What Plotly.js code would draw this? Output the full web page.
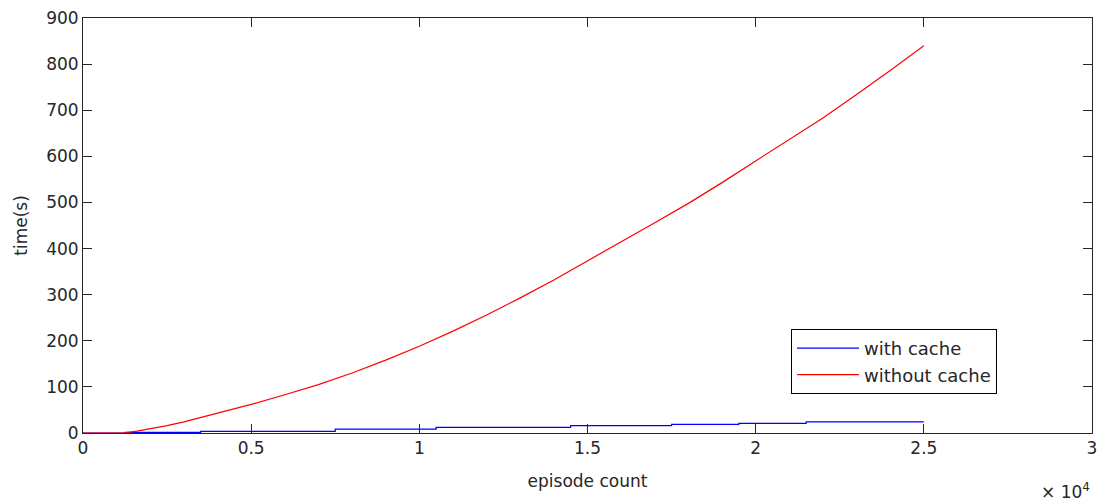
<!DOCTYPE html>
<html>
<head>
<meta charset="utf-8">
<script src="https://cdn.plot.ly/plotly-3.0.1.min.js"></script>
<style>html,body{margin:0;padding:0;background:#fff;}#chart{width:1099px;height:504px;}</style>
</head>
<body>
<div id="chart"></div>
<script>
// Blue: with cache (staircase)
const withCacheX = [0, 1250, 3500, 7500, 10500, 14500, 17500, 19500, 21500, 25000];
const withCacheY = [0, 1.5, 3.5, 8.5, 12, 16, 18.5, 21, 24, 24];
// Red: without cache
const withoutCacheX = [0, 1000, 1250, 1600, 2000, 2500, 3000, 4000, 5000, 6000, 7000, 8000, 9000, 10000, 11000, 12000, 13000, 14000, 15000, 16000, 17000, 18000, 19000, 20000, 21000, 22000, 23000, 24000, 25000];
const withoutCacheY = [0, 0, 0.5, 4, 9, 16, 24, 43, 62, 83, 105, 130, 158, 188, 221, 256, 293, 332, 373, 415, 456, 498, 543, 590, 636, 683, 734, 786, 840];
const xTickVals = [0, 5000, 10000, 15000, 20000, 25000, 30000];
const xTickText = ["0", "0.5", "1", "1.5", "2", "2.5", "3"];
const yTickVals = [0, 100, 200, 300, 400, 500, 600, 700, 800, 900];

const font = {family: "DejaVu Sans, Arial, sans-serif", size: 17, color: "#262626"};
const legendFont = {family: "DejaVu Sans, Arial, sans-serif", size: 18, color: "#262626"};

const traces = [
  {x: withCacheX, y: withCacheY, mode: "lines", name: "with cache", line: {color: "#0000ff", width: 1.2, shape: "hv"}},
  {x: withoutCacheX, y: withoutCacheY, mode: "lines", name: "without cache", line: {color: "#ff0000", width: 1.2, shape: "linear"}}
];

const axisCommon = {
  showline: true, linecolor: "#262626", linewidth: 1, mirror: "allticks",
  ticks: "inside", ticklen: 9, tickcolor: "#262626", tickwidth: 1,
  showgrid: false, zeroline: false, tickfont: font
};

const layout = {
  width: 1099, height: 504,
  margin: {l: 83, r: 7, t: 18, b: 71},
  paper_bgcolor: "#fff", plot_bgcolor: "#fff",
  font: font,
  showlegend: true,
  legend: {x: 0.7017, y: 0.2506, xanchor: "left", yanchor: "top", bordercolor: "#000", borderwidth: 1,
           bgcolor: "#fff", font: legendFont, tracegroupgap: 0, itemwidth: 62},
  xaxis: Object.assign({}, axisCommon, {range: [0, 30000], tickvals: xTickVals, ticktext: xTickText,
         title: {text: "episode count", font: font, standoff: 17}}),
  yaxis: Object.assign({}, axisCommon, {range: [0, 900], tickvals: yTickVals,
         title: {text: "time(s)", font: font, standoff: 14}}),
  annotations: [{xref: "paper", yref: "paper", x: 1.0, y: -0.14, xanchor: "right", yanchor: "middle",
                 text: "× 10<sup>4</sup>", showarrow: false, font: font}]
};

Plotly.newPlot("chart", traces, layout, {displayModeBar: false, staticPlot: true});
</script>
</body>
</html>
